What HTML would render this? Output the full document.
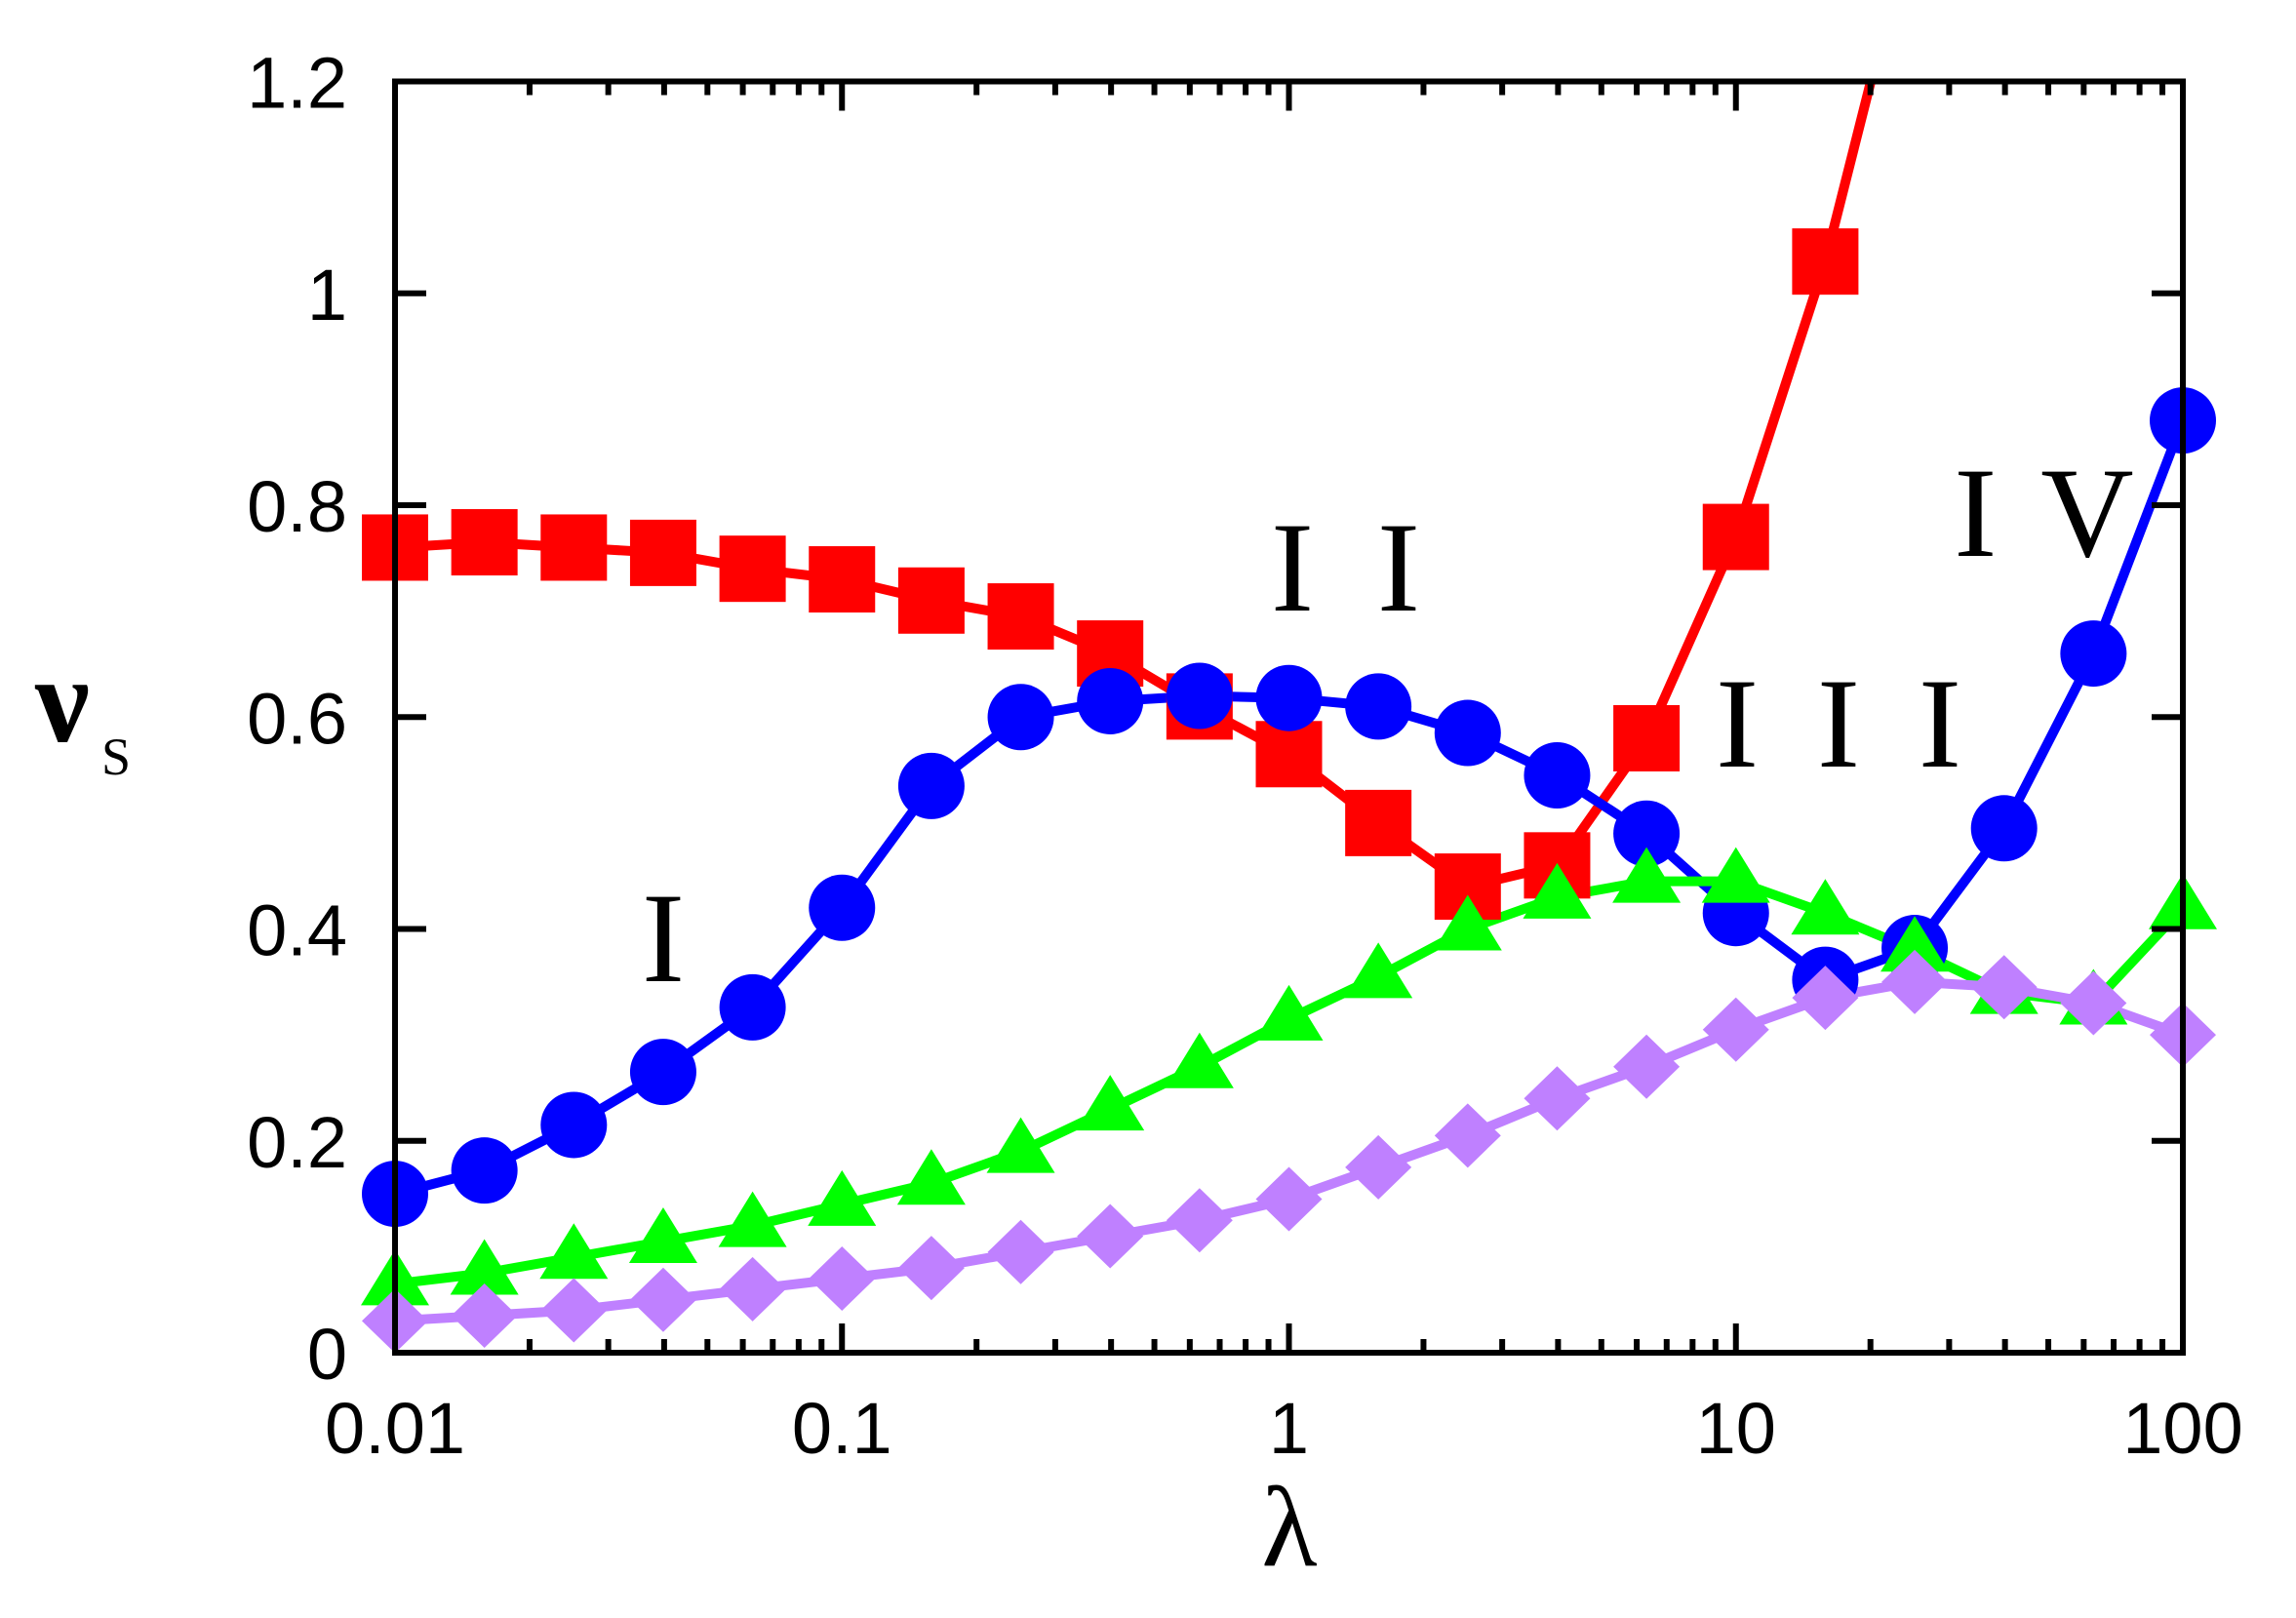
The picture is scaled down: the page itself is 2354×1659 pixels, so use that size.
<!DOCTYPE html>
<html><head><meta charset="utf-8"><style>
html,body{margin:0;padding:0;background:#fff;}
svg{display:block;}
</style></head><body>
<svg id="s" xmlns="http://www.w3.org/2000/svg" width="2354" height="1659" viewBox="0 0 2354 1659">
<rect width="2354" height="1659" fill="#fff"/>
<defs><clipPath id="c"><rect x="405" y="84" width="1833" height="1303"/></clipPath></defs>
<g id="data"></g>
<g id="axes"></g>
<g font-family="Liberation Sans, sans-serif" font-size="74" fill="#000" id="labels"></g>
<g font-family="Liberation Serif, serif" fill="#000">
<text x="1322" y="1605" font-size="118" text-anchor="middle">λ</text>
<text x="36" y="760" font-size="125" font-weight="bold">ν</text>
<text x="104" y="794" font-size="54">S</text>
<text x="680" y="1006" font-size="132" text-anchor="middle">I</text>
<text x="1412" y="626" font-size="132" text-anchor="middle" letter-spacing="65">II</text>
<text x="1915" y="786" font-size="132" text-anchor="middle" letter-spacing="60">III</text>
<text x="2118" y="570" font-size="132" text-anchor="middle" letter-spacing="45">IV</text>
</g>
</svg>
<script>
var L=405,R=2238,T=83.5,B=1387,dec=(R-L)/4,uy=(B-T)/1.2;
function Xi(i){return L+i*0.2*dec;}
function Y(v){return B-v*uy;}
var ns="http://www.w3.org/2000/svg";
function el(p,t,a){var e=document.createElementNS(ns,t);for(var k in a)e.setAttribute(k,a[k]);p.appendChild(e);return e;}
var data=document.getElementById('data'),axes=document.getElementById('axes'),labels=document.getElementById('labels');
var red=[0.76,0.765,0.76,0.755,0.74,0.73,0.71,0.695,0.66,0.61,0.565,0.50,0.44,0.46,0.58,0.77,1.03,1.364];
var blue=[0.15,0.172,0.215,0.265,0.326,0.42,0.535,0.6,0.615,0.62,0.618,0.61,0.585,0.545,0.49,0.415,0.352,0.382,0.495,0.66,0.88];
var green=[0.065,0.075,0.09,0.105,0.12,0.14,0.16,0.19,0.23,0.27,0.315,0.355,0.40,0.43,0.445,0.445,0.415,0.38,0.34,0.33,0.42];
var purple=[0.03,0.035,0.04,0.05,0.06,0.07,0.08,0.095,0.11,0.125,0.145,0.175,0.205,0.24,0.27,0.305,0.335,0.35,0.345,0.33,0.30];
var g=el(data,'g',{'clip-path':'url(#c)'});
function line(arr,col){var p=arr.map(function(v,i){return Xi(i).toFixed(1)+','+Y(v).toFixed(1);}).join(' ');
el(g,'polyline',{points:p,fill:'none',stroke:col,'stroke-width':10,'stroke-linejoin':'round'});}
var gm=el(data,'g',{});
function series(arr,col,kind,n){line(arr,col);
for(var i=0;i<(n||arr.length);i++){var x=Xi(i),y=Y(arr[i]);
if(kind=='sq')el(gm,'rect',{x:x-34,y:y-34,width:68,height:68,fill:col});
else if(kind=='ci')el(gm,'ellipse',{cx:x,cy:y,rx:34,ry:34,fill:col});
else if(kind=='tr')el(gm,'polygon',{points:(x)+','+(y-35)+' '+(x-35)+','+(y+22)+' '+(x+35)+','+(y+22),fill:col});
else el(gm,'polygon',{points:x+','+(y-33)+' '+(x+34)+','+y+' '+x+','+(y+33)+' '+(x-34)+','+y,fill:col});}}
series(red,'#ff0000','sq',17);
series(blue,'#0000ff','ci');
series(green,'#00ff00','tr');
series(purple,'#bf80ff','di');
el(axes,'rect',{x:L,y:T,width:R-L,height:B-T,fill:'none',stroke:'#000','stroke-width':6});
for(var d=0;d<4;d++){for(var m=2;m<=9;m++){var x=L+(d+Math.log10(m))*dec;
el(axes,'line',{x1:x,y1:B,x2:x,y2:B-14,stroke:'#000','stroke-width':6});
el(axes,'line',{x1:x,y1:T,x2:x,y2:T+14,stroke:'#000','stroke-width':6});}}
var xl=['0.01','0.1','1','10','100'];
for(var d=0;d<=4;d++){var x=L+d*dec;
el(axes,'line',{x1:x,y1:B,x2:x,y2:B-30,stroke:'#000','stroke-width':6});
el(axes,'line',{x1:x,y1:T,x2:x,y2:T+30,stroke:'#000','stroke-width':6});
var t=el(labels,'text',{x:x,y:1490,'text-anchor':'middle'});t.textContent=xl[d];}
var yl=['0','0.2','0.4','0.6','0.8','1','1.2'];
for(var j=0;j<=6;j++){var y=Y(j*0.2);
el(axes,'line',{x1:L,y1:y,x2:L+32,y2:y,stroke:'#000','stroke-width':6});
el(axes,'line',{x1:R,y1:y,x2:R-32,y2:y,stroke:'#000','stroke-width':6});
var t=el(labels,'text',{x:356,y:y+27,'text-anchor':'end'});t.textContent=yl[j];}
</script>
</body></html>
